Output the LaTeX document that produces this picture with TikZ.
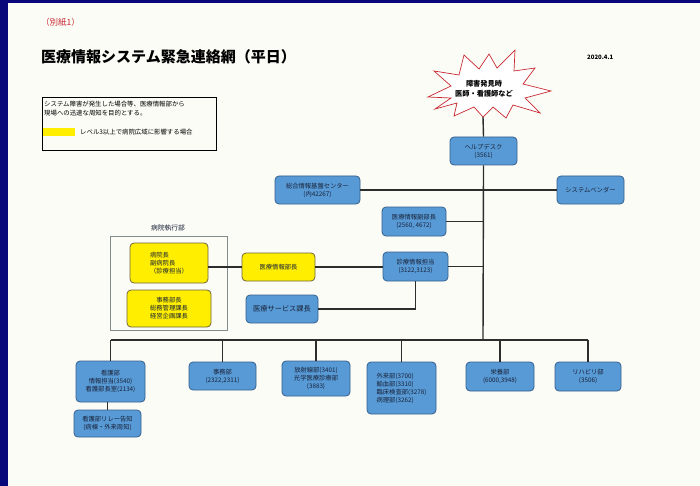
\documentclass[tikz,border=0pt]{standalone}
\usepackage{fontspec}
\setmainfont{Noto Sans CJK JP}
\definecolor{navy}{RGB}{8,8,122}
\definecolor{paper}{RGB}{252,252,246}
\definecolor{boxblue}{RGB}{88,154,214}
\definecolor{boxedge}{RGB}{52,96,140}
\definecolor{boxtext}{RGB}{24,34,56}
\definecolor{ylw}{RGB}{255,238,0}
\definecolor{yedge}{RGB}{110,100,60}
\definecolor{lineclr}{RGB}{45,45,45}
\definecolor{burstred}{RGB}{200,40,50}
\definecolor{framegray}{RGB}{130,140,140}
\begin{document}
\begin{tikzpicture}[x=1pt,y=-1pt,
  bbox/.style={draw=boxedge, fill=boxblue, rounded corners=4pt, line width=0.8pt,
    align=center, text=boxtext, inner sep=1pt, font=\fontsize{6.3}{8}\selectfont},
  ybox/.style={draw=yedge, fill=ylw, rounded corners=4pt, line width=0.8pt,
    align=center, text=boxtext, inner sep=1pt, font=\fontsize{6.3}{8}\selectfont},
  conn/.style={draw=lineclr, line width=1.4pt},
  plain/.style={inner sep=0pt, text=boxtext}]
\fill[navy] (0,0) rectangle (700,486);
\fill[paper] (8,3) rectangle (700,486);
\useasboundingbox (0,0) rectangle (700,486);

% header
\node[plain, anchor=west, text=burstred, font=\fontsize{8.5}{10}\selectfont] (bessi) at (41,22) {（別紙1）};
\node[plain, anchor=west, text=black, font=\bfseries\fontsize{15}{17}\selectfont] (title) at (41,57) {医療情報システム緊急連絡網（平日）};
\node[plain, anchor=west, text=black, font=\bfseries\fontsize{6}{7}\selectfont] (date) at (587,57) {2020.4.1};

% legend
\node[draw=black, line width=0.7pt, minimum width=174, minimum height=53, inner sep=0pt] (legend) at (129,123.5) {};
\node[plain, anchor=north west, align=left, text=black, font=\fontsize{6.4}{8.4}\selectfont] (legtxt) at (44,101) {システム障害が発生した場合等、医療情報部から\\現場への迅速な周知を目的とする。};
\node[fill=ylw, minimum width=32, minimum height=8, inner sep=0pt] (legy) at (59,132) {};
\node[plain, anchor=west, text=black, font=\fontsize{6.4}{8}\selectfont] (legy2) at (80,132) {レベル3以上で病院広域に影響する場合};

% starburst
\draw[burstred, fill=white, line width=0.7pt]
  (428,97) -- (451,86) -- (434,71) -- (459,75) -- (464,55) -- (479,69) -- (489,54) -- (497,68)
  -- (515,50) -- (514,71) -- (535,68) -- (523,84) -- (551,91) -- (525,98) -- (540,113)
  -- (513,105) -- (506,118) -- (493,107) -- (483,117) -- (474,107) -- (454,116) -- (457,103)
  -- (435,109) -- (451,98) -- cycle;
\coordinate (burstbot) at (483,117);
\node[plain, align=center, text=black, font=\bfseries\fontsize{7.2}{10.5}\selectfont] (burst) at (484,89) {障害発見時\\医師・看護師など};

% main column
\node[bbox, minimum width=67, minimum height=28] (help) at (483.5,151) {ヘルプデスク\\(3561)};
\node[bbox, minimum width=85, minimum height=28] (center) at (317.5,190) {総合情報基盤センター\\(内42267)};
\node[bbox, minimum width=67, minimum height=28] (vendor) at (590.5,190) {システムベンダー};
\node[bbox, minimum width=64, minimum height=29] (vicedir) at (414,221.5) {医療情報副部長\\(2560, 4672)};
\node[bbox, minimum width=65, minimum height=29] (shinryo) at (415.5,266.5) {診療情報担当\\(3122,3123)};
\node[ybox, minimum width=73, minimum height=28] (dir) at (278.5,267) {医療情報部長};

% executive frame
\node[draw=framegray, line width=0.8pt, minimum width=117, minimum height=94, inner sep=0pt] (exec) at (168.5,283) {};
\node[plain, font=\fontsize{6.8}{8}\selectfont] (execlbl) at (168,228) {病院執行部};
\node[ybox, minimum width=78, minimum height=40, align=left] (y1) at (169,263) {病院長\\副病院長\\（診療担当）};
\node[ybox, minimum width=84, minimum height=37] (y2) at (169,308.5) {事務部長\\総務管理課長\\経営企画課長};
\node[bbox, minimum width=72, minimum height=28, font=\fontsize{7.2}{8}\selectfont] (service) at (282,309) {医療サービス課長};

% bottom row
\coordinate (bus) at (483,340);
\node[bbox, minimum width=69, minimum height=41] (nurse) at (110.5,381.5) {看護部\\情報担当(3540)\\看護部長室(2134)};
\node[bbox, minimum width=67, minimum height=27] (relay) at (107.5,423.5) {看護部リレー告知\\(病棟・外来周知)};
\node[bbox, minimum width=67, minimum height=28] (jimu) at (222.5,376) {事務部\\(2322,2311)};
\node[bbox, minimum width=68, minimum height=35] (rad) at (316,378.5) {放射線部(3401)\\光学医療診療部\\(3883)};
\node[bbox, minimum width=69, minimum height=52, align=left] (lab) at (401.5,388) {外来部(3700)\\輸血部(3310)\\臨床検査部(3278)\\病理部(3262)};
\node[bbox, minimum width=68, minimum height=29] (eiyo) at (500,376.5) {栄養部\\(6000,3948)};
\node[bbox, minimum width=66, minimum height=29] (rehab) at (588,376.5) {リハビリ部\\(3506)};

% connectors
\draw[conn] (burstbot) -- (help.north);
\draw[conn] (help.south) -- (bus);
\draw[conn] (center.east) -- (vendor.west);
\draw[conn] (vicedir.east) -- (vicedir.east -| bus);
\draw[conn] (shinryo.east) -- (shinryo.east -| bus);
\draw[conn] (dir.east) -- (dir.east -| shinryo.west);
\draw[conn] (dir.west) -- (dir.west -| y1.east);
\draw[conn] (service.east) -| (shinryo.south);
\draw[conn] (bus -| nurse.north) -- (bus -| rehab.north);
\foreach \n in {nurse,jimu,rad,lab,eiyo,rehab}
  \draw[conn] (bus -| \n.north) -- (\n.north);
\draw[conn] (relay.north) -- (relay.north |- nurse.south);
\end{tikzpicture}
\end{document}
